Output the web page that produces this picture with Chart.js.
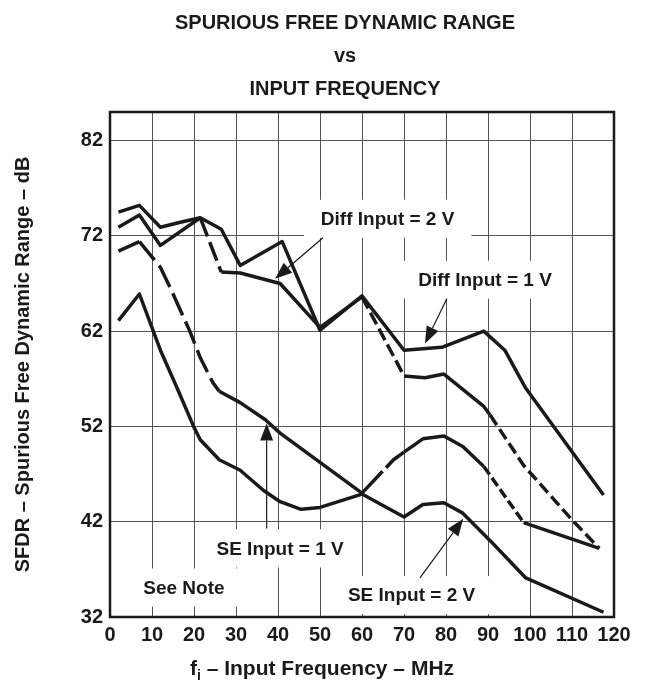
<!DOCTYPE html>
<html>
<head>
<meta charset="utf-8">
<script src="https://cdn.jsdelivr.net/npm/chart.js@4.4.0/dist/chart.umd.min.js"></script>
<style>
  html, body { margin: 0; padding: 0; background: #fff; }
  #wrap { width: 649px; height: 681px; position: relative; }
</style>
</head>
<body>
<div id="wrap"><canvas id="sfdr"></canvas></div>
<script>
// input frequency (MHz) and SFDR (dB)
var fDiff1 = [2, 7, 12, 16.5, 21.5, 26.5, 31, 41, 50, 60, 70, 79, 89, 94, 99, 117.5];
var dbDiff1 = [74.5, 75.2, 72.9, 73.4, 73.9, 72.7, 68.9, 71.4, 62.1, 65.7, 60.0, 60.3, 62.0, 60.0, 56.0, 44.8];

var fDiff2 = [2, 7, 12, 21.5, 26.5, 31, 40.5, 50, 60, 70, 75, 79.5, 89, 90.5, 98.5, 110, 116.5];
var dbDiff2 = [72.9, 74.2, 71.0, 73.9, 68.2, 68.1, 67.0, 62.4, 65.6, 57.3, 57.1, 57.5, 54.1, 53.2, 47.9, 42.2, 39.2];

var fSe1 = [2, 7, 12, 14.5, 19, 21.5, 24.5, 26, 31, 37, 40.5, 60, 67.5, 70, 74.5, 79.5, 84, 89, 98.5, 116.5];
var dbSe1 = [70.4, 71.4, 68.7, 66.4, 62.0, 59.2, 56.6, 55.7, 54.5, 52.7, 51.3, 45.0, 48.5, 49.3, 50.7, 51.0, 49.9, 47.8, 41.9, 39.2];

var fSe2 = [2, 7, 12, 16, 20, 21.5, 26, 31, 36.5, 40.5, 45.5, 50, 60, 70, 74.5, 79.5, 84, 91, 99, 117.5];
var dbSe2 = [63.1, 65.9, 60.0, 56.0, 51.9, 50.6, 48.5, 47.4, 45.3, 44.1, 43.3, 43.5, 44.9, 42.5, 43.8, 44.0, 42.9, 39.8, 36.1, 32.5];

var xTicks = [0, 10, 20, 30, 40, 50, 60, 70, 80, 90, 100, 110, 120];
var yTicks = [32, 42, 52, 62, 72, 82];

var titleLines = ['SPURIOUS FREE DYNAMIC RANGE', 'vs', 'INPUT FREQUENCY'];

// callouts, in chart units
var notes = [
  { text: 'Diff Input = 2 V', at: [66.1, 73.8], from: [50.7, 71.8], to: [39.3, 67.5] },
  { text: 'Diff Input = 1 V', at: [89.3, 67.4], from: [80.2, 65.4], to: [75.0, 60.7] },
  { text: 'SE Input = 1 V', at: [40.5, 39.2], from: [37.3, 41.3], to: [37.3, 52.3] },
  { text: 'SE Input = 2 V', at: [71.8, 34.3], from: [73.8, 36.1], to: [84.1, 42.3] },
  { text: 'See Note', at: [17.6, 35.1] }
];

var FONT = '"Liberation Sans", Arial, Helvetica, sans-serif';
var INK = '#1a1a1a';

function pts(fs, ds) {
  return fs.map(function(f, i) { return { x: f, y: ds[i] }; });
}

// dashed stretches: [from MHz, to MHz, pattern]
function dashIn(ranges) {
  return function(ctx) {
    var a = ctx.p0.parsed.x, b = ctx.p1.parsed.x;
    for (var i = 0; i < ranges.length; i++) {
      if (a >= ranges[i][0] && b <= ranges[i][1]) return ranges[i][2];
    }
    return [];
  };
}

function curve(label, fs, ds, dashes) {
  return {
    label: label,
    data: pts(fs, ds),
    borderColor: INK,
    borderWidth: 3.5,
    pointRadius: 0,
    tension: 0,
    fill: false,
    borderCapStyle: 'butt',
    borderJoinStyle: 'round',
    segment: dashes ? { borderDash: dashIn(dashes) } : undefined
  };
}

function arrow(ctx, x0, y0, x1, y1) {
  var ang = Math.atan2(y1 - y0, x1 - x0);
  var len = 17, half = 6.5;
  var bx = x1 - len * Math.cos(ang), by = y1 - len * Math.sin(ang);
  ctx.beginPath();
  ctx.moveTo(x0, y0);
  ctx.lineTo(bx, by);
  ctx.stroke();
  ctx.beginPath();
  ctx.moveTo(x1, y1);
  ctx.lineTo(bx + half * Math.sin(ang), by - half * Math.cos(ang));
  ctx.lineTo(bx - half * Math.sin(ang), by + half * Math.cos(ang));
  ctx.closePath();
  ctx.fill();
}

var notesPlugin = {
  id: 'notes',
  beforeDatasetsDraw: function(chart) {
    var ctx = chart.ctx, xs = chart.scales.x, ys = chart.scales.y;
    ctx.save();
    ctx.font = 'bold 19px ' + FONT;
    ctx.textAlign = 'center';
    ctx.textBaseline = 'middle';
    notes.forEach(function(n) {
      var cx = xs.getPixelForValue(n.at[0]), cy = ys.getPixelForValue(n.at[1]);
      var w = ctx.measureText(n.text).width + 34;
      ctx.fillStyle = '#fff';
      ctx.fillRect(cx - w / 2, cy - 19, w, 38);
      ctx.fillStyle = INK;
      ctx.fillText(n.text, cx, cy + 1);
    });
    ctx.restore();
  },
  afterDatasetsDraw: function(chart) {
    var ctx = chart.ctx, xs = chart.scales.x, ys = chart.scales.y, a = chart.chartArea;
    ctx.save();
    ctx.strokeStyle = INK;
    ctx.fillStyle = INK;
    ctx.lineWidth = 1.2;
    notes.forEach(function(n) {
      if (!n.from) return;
      arrow(ctx, xs.getPixelForValue(n.from[0]), ys.getPixelForValue(n.from[1]),
        xs.getPixelForValue(n.to[0]), ys.getPixelForValue(n.to[1]));
    });
    // frame
    ctx.lineWidth = 2.5;
    ctx.strokeRect(a.left, a.top, a.right - a.left, a.bottom - a.top);
    ctx.restore();
  },
  afterDraw: function(chart) {
    var ctx = chart.ctx;
    ctx.save();
    ctx.fillStyle = INK;

    // chart title, three lines
    ctx.font = 'bold 20px ' + FONT;
    ctx.textAlign = 'center';
    ctx.textBaseline = 'middle';
    titleLines.forEach(function(t, i) {
      ctx.fillText(t, 345, 23 + i * 33);
    });

    // x axis title with subscript i
    var big = 'bold 21px ' + FONT, small = 'bold 14px ' + FONT;
    var head = 'f', sub = 'i', tail = ' \u2013 Input Frequency \u2013 MHz';
    ctx.textBaseline = 'alphabetic';
    ctx.font = big;
    var w1 = ctx.measureText(head).width, w3 = ctx.measureText(tail).width;
    ctx.font = small;
    var w2 = ctx.measureText(sub).width;
    var x = 322 - (w1 + w2 + w3) / 2;
    var y = chart.scales.x.bottom + 24;
    ctx.textAlign = 'left';
    ctx.font = big;
    ctx.fillText(head, x, y);
    ctx.font = small;
    ctx.fillText(sub, x + w1, y + 5);
    ctx.font = big;
    ctx.fillText(tail, x + w1 + w2, y);
    ctx.restore();
  }
};

new Chart(document.getElementById('sfdr'), {
  type: 'line',
  data: {
    datasets: [
      curve('Diff Input = 1 V', fDiff1, dbDiff1, null),
      curve('Diff Input = 2 V', fDiff2, dbDiff2, [[21.5, 26.5, [20, 6]], [60, 70, [13, 5]], [90.5, 117, [12, 5]]]),
      curve('SE Input = 1 V', fSe1, dbSe1, [[7, 26, [24, 7]], [60, 70, [30, 5]], [89, 98.5, [10, 4]]]),
      curve('SE Input = 2 V', fSe2, dbSe2, null)
    ]
  },
  options: {
    responsive: true,
    maintainAspectRatio: false,
    animation: false,
    events: [],
    layout: { padding: { left: 0, right: 35, top: 112, bottom: 30 } },
    plugins: {
      legend: { display: false },
      tooltip: { enabled: false },
      title: { display: false }
    },
    scales: {
      x: {
        type: 'linear',
        min: 0,
        max: 120,
        afterBuildTicks: function(s) { s.ticks = xTicks.map(function(v) { return { value: v }; }); },
        afterFit: function(s) { s.height = 34; },
        grid: { color: '#555', lineWidth: 1, drawTicks: false },
        border: { display: false },
        ticks: {
          color: INK,
          padding: 6,
          maxRotation: 0,
          autoSkip: false,
          font: { family: FONT, size: 20, weight: 'bold' }
        }
      },
      y: {
        type: 'linear',
        min: 32,
        max: 85,
        afterBuildTicks: function(s) { s.ticks = yTicks.map(function(v) { return { value: v }; }); },
        afterFit: function(s) { s.width = 110; },
        grid: { color: '#555', lineWidth: 1, drawTicks: false },
        border: { display: false },
        ticks: {
          color: INK,
          padding: 7,
          autoSkip: false,
          font: { family: FONT, size: 20, weight: 'bold' }
        },
        title: {
          display: true,
          text: 'SFDR \u2013 Spurious Free Dynamic Range \u2013 dB',
          color: INK,
          font: { family: FONT, size: 20, weight: 'bold' },
          padding: { top: 11, bottom: 0 }
        }
      }
    }
  },
  plugins: [notesPlugin]
});
</script>
</body>
</html>
